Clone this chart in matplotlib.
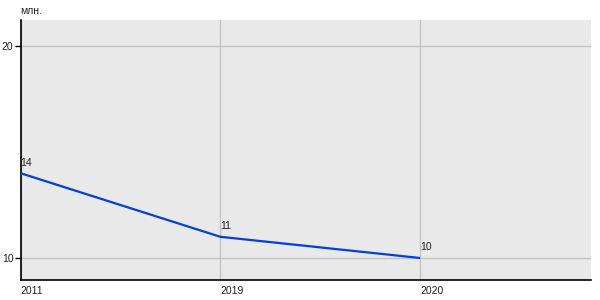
import matplotlib
matplotlib.use("Agg")
import matplotlib.pyplot as plt

years = ["2011", "2019", "2020"]
values = [14, 11, 10]
yticks = [10, 20]
unit_label = "млн."

plt.rcParams['font.family'] = ['Liberation Sans', 'DejaVu Sans']
FS = 7.5

fig = plt.figure(figsize=(6, 3), dpi=100)
ax = fig.add_axes([20.5/600, 20/300, (591-20.5)/600, 260/300])
ax.set_facecolor('#e9e9e9')

x = list(range(len(years)))
ax.plot(x, values, color='#0040e0', linewidth=1.6, zorder=3, solid_capstyle='butt')
for xi, v in zip(x, values):
    ax.annotate(str(v), (xi, v), xytext=(0, 4), textcoords='offset points',
                ha='left', va='bottom', fontsize=FS, color='#222222')

ax.set_xlim(0, 2.855)
ax.set_ylim(8.962, 21.226)
ax.set_yticks(yticks)
ax.set_yticklabels([str(t) for t in yticks], fontsize=FS, color='#222222')
ax.set_xticks(x)
ax.set_xticklabels(years, fontsize=FS, color='#222222', ha='left')
ax.tick_params(axis='x', length=0, pad=4)
ax.tick_params(axis='y', length=4, width=1, pad=1, color='black')
ax.grid(True, color='#c4c4c4', linewidth=1)
ax.set_axisbelow(True)
for s in ['top', 'right']:
    ax.spines[s].set_visible(False)
for s in ['left', 'bottom']:
    ax.spines[s].set_color('black')
    ax.spines[s].set_linewidth(1.2)

fig.text(20/600, 1 - 11/300, unit_label, fontsize=FS, color='#222222', ha='left', va='center')

fig.savefig('out.png', dpi=100)
